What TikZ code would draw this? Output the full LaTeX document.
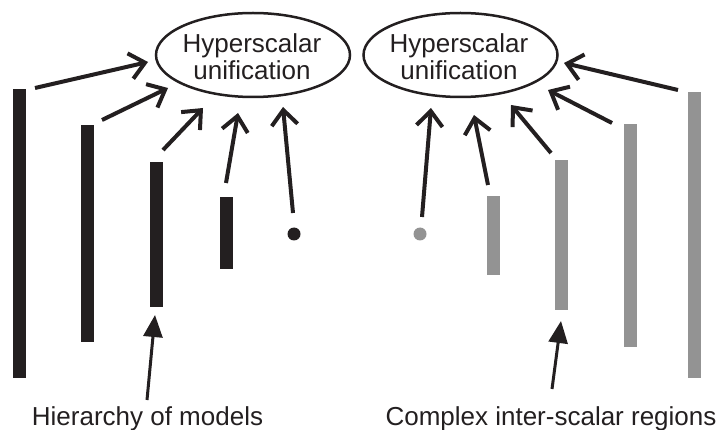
\documentclass[tikz,border=0pt]{standalone}
\usepackage{fontspec}
\setmainfont{Liberation Sans}
\usetikzlibrary{arrows.meta,shapes.geometric}
\definecolor{ink}{HTML}{231F20}
\definecolor{pale}{HTML}{939393}
\begin{document}
\begin{tikzpicture}[x=1pt,y=-1pt,
  unif/.style={ellipse,draw=ink,line width=2.5pt,inner sep=0pt,minimum width=194pt,minimum height=84pt},
  title/.style={align=center,font=\fontsize{26}{27}\selectfont,text=ink,inner sep=0pt},
  caption/.style={font=\fontsize{26}{27}\selectfont,text=ink,inner sep=0pt,anchor=base},
  darkbar/.style={fill=ink,draw=none,inner sep=0pt,minimum width=13pt,anchor=north west},
  palebar/.style={fill=pale,draw=none,inner sep=0pt,minimum width=13pt,anchor=north west},
  darkdot/.style={circle,fill=ink,inner sep=0pt,minimum size=13pt},
  paledot/.style={circle,fill=pale,inner sep=0pt,minimum size=13pt},
  barb/.style={draw=ink,line width=4pt,-{Straight Barb[length=15pt,width=26pt,line width=4pt]}},
  pointer/.style={draw=ink,line width=3pt,-{Triangle[length=22pt,width=19pt]}}]
\useasboundingbox (0,0) rectangle (722,430);

% ellipses
\node[unif] (L) at (253,55) {};
\node[title] (Lt) at (252,57) {Hyperscalar\\unification};
\node[unif] (R) at (460.5,55) {};
\node[title] (Rt) at (459,57) {Hyperscalar\\unification};

% dark bars
\node[darkbar,minimum height=289pt] (d1) at (13,89) {};
\node[darkbar,minimum height=217pt] (d2) at (81,125) {};
\node[darkbar,minimum height=145pt] (d3) at (150,162) {};
\node[darkbar,minimum height=72pt] (d4) at (219.5,197) {};
\node[darkdot] (d5) at (294,234) {};

% pale bars
\node[paledot] (p5) at (420,234) {};
\node[palebar,minimum height=79pt] (p4) at (487,196) {};
\node[palebar,minimum height=150pt] (p3) at (555,160) {};
\node[palebar,minimum height=223pt] (p2) at (624,124) {};
\node[palebar,minimum height=286pt] (p1) at (688,92) {};

% arrow ends
\coordinate (a1s) at (35,88);   \coordinate (a1e) at (148,62);
\coordinate (a2s) at (102,120); \coordinate (a2e) at (168,88);
\coordinate (a3s) at (163,150); \coordinate (a3e) at (203,108);
\coordinate (a4s) at (226,183); \coordinate (a4e) at (238,113);
\coordinate (a5s) at (293,213); \coordinate (a5e) at (283,107);
\coordinate (b5s) at (422,217); \coordinate (b5e) at (431,108);
\coordinate (b4s) at (488,185); \coordinate (b4e) at (474,115);
\coordinate (b3s) at (551,153); \coordinate (b3e) at (511,105);
\coordinate (b2s) at (612,123); \coordinate (b2e) at (548,90);
\coordinate (b1s) at (678,90);  \coordinate (b1e) at (564,63);
\coordinate (c1s) at (147,400); \coordinate (c1e) at (155,315);
\coordinate (c2s) at (552,389); \coordinate (c2e) at (561,321);

\draw[barb] (a1s) -- (a1e);
\draw[barb] (a2s) -- (a2e);
\draw[barb] (a3s) -- (a3e);
\draw[barb] (a4s) -- (a4e);
\draw[barb] (a5s) -- (a5e);
\draw[barb] (b5s) -- (b5e);
\draw[barb] (b4s) -- (b4e);
\draw[barb] (b3s) -- (b3e);
\draw[barb] (b2s) -- (b2e);
\draw[barb] (b1s) -- (b1e);

% captions
\node[caption] (hm) at (147.5,425) {Hierarchy of models};
\node[caption] (cr) at (551,425) {Complex inter-scalar regions};
\draw[pointer] (c1s) -- (c1e);
\draw[pointer] (c2s) -- (c2e);
\end{tikzpicture}
\end{document}
